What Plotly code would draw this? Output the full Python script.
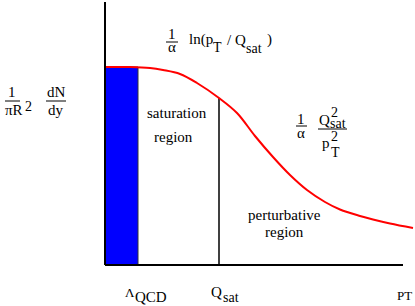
import plotly.graph_objects as go

# ---- schematic data (arbitrary units: pT along x, dN/dy along y) ----
pt = [0, 25, 45, 58, 75, 92, 114, 132, 150, 168, 185, 202, 220, 235, 255, 268, 285, 308]
dndy = [198, 198, 197, 195, 191, 182, 167, 152, 129, 108, 90, 75, 63, 55.5, 49, 45.5, 41.5, 37]
lambda_qcd = 33
q_sat = 114
q_sat_height = 167
plateau = 198

FONT = "Liberation Serif"

# plot area geometry (pixels)
L, R, B, T = 105, 0, 41, 0
W, H = 415, 306
PW, PH = W - L - R, H - T - B


def px(x):
    return (x - L) / PW


def py(y):
    return (H - B - y) / PH


fig = go.Figure()

fig.add_trace(go.Scatter(
    x=[0, lambda_qcd, lambda_qcd, 0, 0],
    y=[0, 0, plateau, plateau, 0],
    fill="toself", fillcolor="#0000ff", mode="lines",
    line=dict(color="#333333", width=1), hoverinfo="skip", showlegend=False))

fig.add_trace(go.Scatter(
    x=[q_sat, q_sat], y=[0, q_sat_height], mode="lines",
    line=dict(color="black", width=1.5), hoverinfo="skip", showlegend=False))

fig.add_trace(go.Scatter(
    x=pt, y=dndy, mode="lines", line=dict(color="red", width=2, shape="spline"),
    hoverinfo="skip", showlegend=False))


def hline(x0, x1, y, w=1):
    return dict(type="line", xref="paper", yref="paper", x0=px(x0), x1=px(x1),
                y0=py(y), y1=py(y), line=dict(color="black", width=w))


shapes = [
    dict(type="line", xref="paper", yref="paper", x0=px(105), x1=px(105), y0=py(265), y1=py(2),
         line=dict(color="black", width=2)),
    hline(105, 403, 265, 2),
    hline(5, 20, 101), hline(46, 66, 101),
    hline(166, 178, 42),
    hline(296, 307, 126), hline(318, 347, 129),
]


def ann(x, y, text, size=15, xanchor="center"):
    return dict(x=px(x), y=py(y), xref="paper", yref="paper", text=text, showarrow=False,
                xanchor=xanchor, yanchor="middle",
                font=dict(family=FONT, size=size, color="black"))


annotations = [
    ann(12, 92, "1"), ann(14, 110, "πR"), ann(28, 106, "2", 14),
    ann(56, 92, "dN"), ann(56, 110, "dy"),
    ann(172, 34, "1"), ann(172, 47, "α"),
    ann(187, 40, "ln(p", 15, "left"), ann(217, 48, "T", 14),
    ann(225, 40, "/ Q", 15, "left"), ann(254, 49, "sat", 14), ann(265, 40, ")", 15, "left"),
    ann(301, 119, "1"), ann(301, 133, "α"),
    ann(324, 120, "Q"), ann(334, 112, "2", 14), ann(338, 123, "sat", 14),
    ann(326, 143, "p"), ann(334, 136, "2", 14), ann(335, 152, "T", 14),
    ann(177, 113, "saturation"), ann(173, 137, "region"),
    ann(284, 215, "perturbative"), ann(284, 232, "region"),
    ann(130, 292, "Λ", 13), ann(151, 297, "QCD", 15),
    ann(216, 292, "Q", 15), ann(231, 297, "sat", 14),
    ann(404, 295, "PT", 13),
]

fig.update_layout(
    width=W, height=H,
    margin=dict(l=L, r=R, t=T, b=B),
    paper_bgcolor="white", plot_bgcolor="white",
    xaxis=dict(range=[0, PW], visible=False, fixedrange=True),
    yaxis=dict(range=[0, PH], visible=False, fixedrange=True),
    shapes=shapes, annotations=annotations, showlegend=False,
)

fig.write_html("out.html", config={"displayModeBar": False},
               post_script="document.body.style.margin='0';document.body.style.padding='0';")
